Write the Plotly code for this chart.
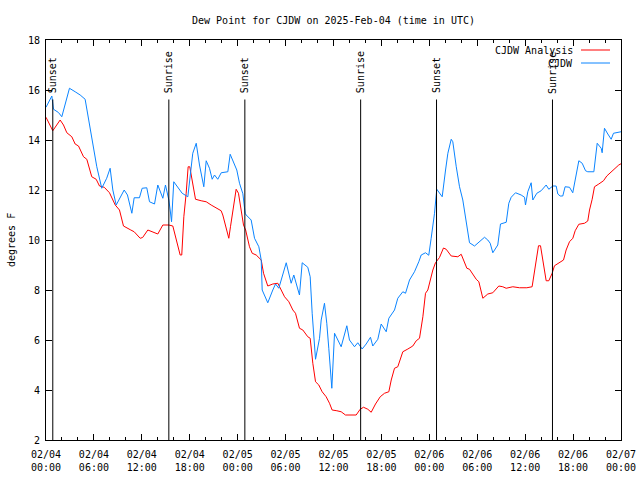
import pandas as pd
import plotly.graph_objects as go

# ---- data (hours after 2025-02-04 00:00 UTC) ----
analysis_hours = [0.0, 0.85, 1.77, 2.19, 2.61, 3.23, 3.65, 4.07, 4.7, 5.11, 5.73, 6.28, 6.7, 7.29, 7.95,
                  8.24, 8.67, 9.2, 9.7, 10.62, 11.04, 11.79, 12.1, 12.75, 13.37, 14.0, 14.63, 15.38, 15.88,
                  16.22, 16.51, 16.8, 17.0, 17.26, 17.55, 17.8, 18.0, 18.3, 18.72, 19.43, 20.06, 20.68,
                  21.39, 21.93, 22.14, 22.48, 22.89, 23.1, 23.48, 23.81, 24.1, 24.44, 24.73, 25.0, 25.48,
                  25.82, 26.32, 26.95, 27.24, 27.77, 28.4, 29.03, 29.45, 29.87, 30.41, 30.91, 31.24, 31.74,
                  32.16, 32.78, 33.08, 33.41, 33.75, 34.16, 34.58, 35.08, 35.5, 35.83, 36.42, 36.96, 37.5,
                  38.84, 39.34, 39.76, 40.3, 40.72, 41.26, 41.85, 42.39, 42.93, 43.23, 43.64, 44.05, 44.68,
                  45.31, 45.93, 46.36, 46.77, 47.19, 47.52, 47.81, 48.11, 48.44, 48.77, 49.27, 49.77, 50.11,
                  50.74, 51.57, 51.99, 52.28, 52.7, 53.03, 53.45, 53.87, 54.2, 54.49, 54.7, 55.32, 55.95,
                  56.7, 57.2, 57.62, 58.45, 59.29, 60.21, 60.87, 61.29, 61.67, 61.92, 62.3, 62.63, 62.96,
                  63.38, 63.67, 64.21, 64.8, 65.13, 65.55, 65.97, 66.26, 66.72, 67.43, 67.84, 68.06, 68.39,
                  68.68, 69.22, 69.81, 70.22, 70.77, 71.31, 71.72, 72.0]
analysis_dewpt = [14.91, 14.37, 14.8, 14.6, 14.29, 14.13, 13.84, 13.76, 13.33, 13.23, 12.53, 12.43, 12.16, 12.11, 11.89,
                  11.67, 11.4, 11.2, 10.56, 10.4, 10.33, 10.07, 10.1, 10.4, 10.33, 10.24, 10.6, 10.6, 10.56,
                  10.13, 9.73, 9.4, 9.4, 10.93, 11.87, 12.93, 12.93, 12.4, 11.63, 11.57, 11.53, 11.4,
                  11.27, 11.17, 11.0, 10.53, 10.07, 10.53, 11.4, 12.03, 11.87, 11.13, 10.6, 10.4, 9.73,
                  9.47, 9.4, 9.2, 8.67, 8.16, 8.24, 8.27, 8.0, 7.73, 7.53, 7.2, 7.07, 6.47,
                  6.4, 6.13, 6.07, 5.07, 4.33, 4.2, 3.93, 3.73, 3.47, 3.2, 3.17, 3.13, 3.0,
                  3.0, 3.23, 3.31, 3.23, 3.11, 3.44, 3.73, 3.87, 3.93, 4.4, 4.87, 4.93, 5.53,
                  5.64, 5.76, 5.97, 6.07, 6.93, 7.87, 8.0, 8.4, 8.8, 9.09, 9.3, 9.68, 9.63,
                  9.36, 9.33, 9.43, 9.2, 8.87, 8.83, 8.6, 8.43, 8.33, 7.87, 7.67, 7.84, 7.89,
                  8.16, 8.13, 8.07, 8.13, 8.09, 8.09, 8.13, 9.0, 9.77, 9.77, 9.07, 8.37, 8.37,
                  8.67, 8.97, 9.09, 9.2, 9.6, 9.93, 10.07, 10.37, 10.63, 10.67, 10.76, 11.2, 11.63,
                  12.13, 12.24, 12.37, 12.56, 12.73, 12.87, 13.0, 13.05]

obs_hours = [0.0, 0.73, 0.94, 1.56, 1.98, 2.94, 3.65, 4.28, 4.9, 5.32, 5.95, 6.36, 6.98, 7.6, 8.03, 8.37,
             8.79, 9.28, 9.79, 10.2, 10.75, 11.04, 11.7, 12.04, 12.62, 12.96, 13.59, 14.0, 14.63, 14.96,
             15.38, 15.55, 15.72, 16.0, 16.63, 17.05, 17.76, 17.97, 18.38, 18.81, 19.22, 19.76, 20.06,
             20.47, 20.81, 21.1, 21.51, 21.94, 22.77, 23.06, 23.39, 23.89, 24.23, 24.65, 24.94, 25.07,
             25.69, 26.11, 26.65, 26.95, 27.07, 27.77, 28.4, 28.74, 29.15, 29.58, 30.08, 30.7, 31.03,
             31.74, 32.08, 32.78, 33.08, 33.33, 33.75, 34.25, 34.46, 34.87, 35.16, 35.41, 35.59, 35.79,
             36.13, 36.96, 37.67, 38.0, 38.63, 39.04, 39.59, 40.09, 40.63, 40.92, 41.55, 41.97, 42.6,
             42.93, 43.64, 44.05, 44.68, 45.02, 45.52, 46.14, 46.68, 46.98, 47.52, 47.93, 48.23, 48.65,
             48.93, 49.61, 50.03, 50.32, 50.74, 50.94, 51.37, 51.78, 52.19, 52.62, 53.03, 53.66, 54.28,
             54.91, 55.32, 55.62, 55.95, 56.57, 56.91, 57.63, 57.95, 58.25, 58.79, 59.5, 59.92, 60.04,
             60.33, 60.75, 60.96, 61.46, 62.0, 62.63, 62.96, 63.46, 63.88, 64.09, 64.38, 64.71, 65.0,
             65.55, 65.96, 66.3, 66.72, 67.14, 67.56, 67.84, 68.6, 69.02, 69.52, 69.64, 69.93, 70.35,
             70.77, 71.06, 71.72, 72.0]
obs_dewpt = [15.31, 15.76, 15.23, 15.1, 14.93, 16.07, 15.93, 15.8, 15.63, 14.8, 13.73, 12.93, 12.07, 12.47, 12.87, 12.0,
             11.4, 11.67, 12.0, 11.8, 11.07, 11.69, 11.69, 12.07, 12.09, 11.53, 11.44, 12.2, 11.67, 12.2,
             11.6, 11.2, 10.73, 12.33, 12.07, 11.87, 11.73, 12.33, 13.47, 13.87, 13.0, 12.13, 13.17,
             12.87, 12.43, 12.6, 12.43, 12.69, 12.73, 13.43, 13.2, 12.8, 12.27, 11.85, 11.07, 11.0,
             10.8, 10.07, 9.73, 9.2, 8.0, 7.49, 8.0, 8.24, 8.07, 8.53, 9.09, 8.27, 8.6,
             7.8, 9.09, 8.91, 8.53, 7.07, 5.23, 6.07, 6.8, 7.47, 6.67, 5.67, 4.73, 4.07,
             6.27, 5.73, 6.57, 6.0, 5.73, 5.89, 5.64, 5.84, 6.11, 5.76, 6.03, 6.64, 6.33,
             6.87, 7.2, 7.67, 7.93, 7.87, 8.4, 8.73, 9.13, 9.4, 9.49, 9.39, 10.07, 11.07,
             12.03, 11.73, 12.8, 13.47, 14.03, 13.93, 12.93, 12.13, 11.6, 10.8, 9.89, 9.76, 9.93,
             10.11, 10.0, 9.87, 9.49, 9.8, 10.64, 10.71, 11.47, 11.71, 11.89, 11.8, 11.71, 11.4,
             11.93, 12.29, 11.6, 11.87, 11.97, 12.2, 12.03, 12.16, 12.16, 11.84, 11.76, 11.76, 12.13,
             12.11, 11.89, 12.53, 13.17, 13.07, 12.77, 12.73, 12.73, 13.87, 13.67, 13.49, 14.47, 14.24,
             14.03, 14.27, 14.33, 14.33]

sun_hours = [0.85, 15.38, 24.9, 39.4, 48.9, 63.42]
sun_labels = ["Sunset", "Sunrise", "Sunset", "Sunrise", "Sunset", "Sunrise"]

tick_hours = [0, 6, 12, 18, 24, 30, 36, 42, 48, 54, 60, 66, 72]
tick_labels = ["02/04<br>00:00", "02/04<br>06:00", "02/04<br>12:00", "02/04<br>18:00",
               "02/05<br>00:00", "02/05<br>06:00", "02/05<br>12:00", "02/05<br>18:00",
               "02/06<br>00:00", "02/06<br>06:00", "02/06<br>12:00", "02/06<br>18:00",
               "02/07<br>00:00"]

# ---- build ----
base = pd.Timestamp("2025-02-04 00:00:00")
def t(h):
    return [base + pd.Timedelta(hours=v) for v in h]

FONT = "DejaVu Sans Mono"
FS = 10
RED = "#ff0000"
BLUE = "#0a84ff"

fig = go.Figure()
fig.add_trace(go.Scatter(x=t(analysis_hours), y=analysis_dewpt, mode="lines",
                         line=dict(color=RED, width=1), name="CJDW Analysis", showlegend=False))
fig.add_trace(go.Scatter(x=t(obs_hours), y=obs_dewpt, mode="lines",
                         line=dict(color=BLUE, width=1), name="CJDW", showlegend=False))

for h, lab in zip(t(sun_hours), sun_labels):
    fig.add_shape(type="line", x0=h, x1=h, y0=2, y1=15.62, xref="x", yref="y",
                  line=dict(color="black", width=1))
    fig.add_annotation(x=h, y=15.78, xref="x", yref="y", text=lab, textangle=-90,
                       showarrow=False, xanchor="center", yanchor="bottom",
                       font=dict(family=FONT, size=FS, color="black"))

# legend (gnuplot style: text then line sample)
L, W = 46, 575
def px(xp):
    return (xp - L) / W
for i, (name, col) in enumerate([("CJDW Analysis", RED), ("CJDW", BLUE)]):
    yp = (440 - (50 + 13 * i)) / 400
    fig.add_annotation(x=px(575), y=yp, xref="paper", yref="paper", text=name, showarrow=False,
                       xanchor="right", yanchor="middle", font=dict(family=FONT, size=FS, color="black"))
    fig.add_shape(type="line", x0=px(581), x1=px(610), y0=yp, y1=yp, xref="paper", yref="paper",
                  line=dict(color=col, width=1))

# y-axis title
fig.add_annotation(x=px(11), y=0.5, xref="paper", yref="paper", text="degrees F", textangle=-90,
                   showarrow=False, xanchor="center", yanchor="middle",
                   font=dict(family=FONT, size=FS, color="black"))

fig.update_layout(
    width=640, height=480,
    margin=dict(l=46, r=19, t=40, b=40, autoexpand=False),
    paper_bgcolor="white", plot_bgcolor="white",
    font=dict(family=FONT, size=FS, color="black"),
    title=dict(text="Dew Point for CJDW on 2025-Feb-04 (time in UTC)", x=333.5 / 640, xanchor="center",
               y=1 - 20 / 480, yanchor="middle", font=dict(family=FONT, size=FS, color="black")),
    showlegend=False,
)
fig.update_xaxes(range=[base, base + pd.Timedelta(hours=72)], tickmode="array",
                 tickvals=t(tick_hours), ticktext=tick_labels, automargin=False,
                 tickfont=dict(family=FONT, size=FS),
                 showline=True, linecolor="black", linewidth=1, mirror="allticks",
                 ticks="inside", ticklen=6, tickcolor="black", showgrid=False, zeroline=False,
                 ticklabelstandoff=5,
                 minor=dict(tickmode="linear", tick0=base, dtick=2 * 3600 * 1000, ticks="inside",
                            ticklen=3, tickcolor="black", showgrid=False))
fig.update_yaxes(range=[2, 18], dtick=2, tick0=2, showline=True, linecolor="black", linewidth=1,
                 mirror="allticks", ticks="inside", ticklen=6, tickcolor="black", automargin=False,
                 tickfont=dict(family=FONT, size=FS), ticklabelstandoff=3,
                 showgrid=False, zeroline=False)

fig.write_html("out.html", config={"displayModeBar": False},
               post_script="document.body.style.margin='0';")
